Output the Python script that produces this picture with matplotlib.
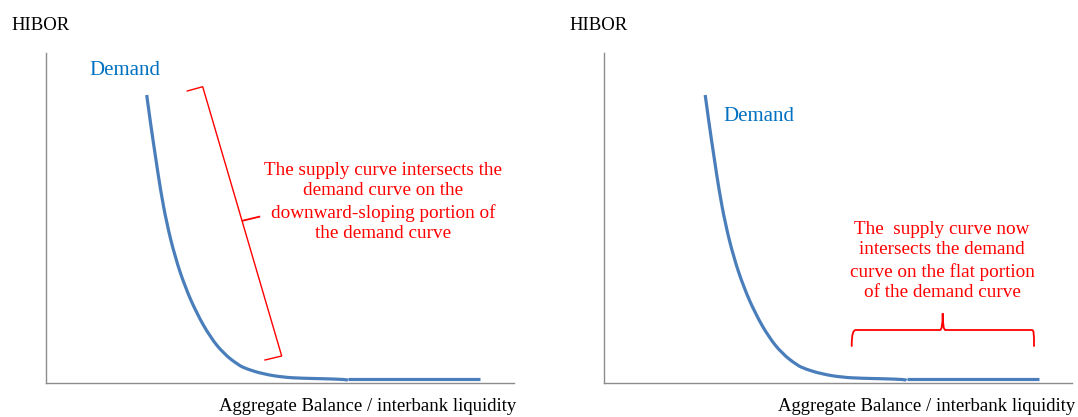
import matplotlib
matplotlib.use("Agg")
import matplotlib.pyplot as plt
from matplotlib.path import Path
from matplotlib.patches import PathPatch

# ---- data (in axis units) ----
demand_x = [101.2, 105.0, 110.0, 115.0, 121.2, 129.5, 139.5, 151.2, 164.5, 177.8,
            192.8, 201.2, 217.8, 237.8, 257.8, 277.8, 301.2, 302.5]
demand_y = [288.3, 260.0, 226.6, 193.3, 160.0, 126.6, 96.6, 70.0, 46.6, 30.0,
            18.3, 14.3, 9.3, 6.0, 5.0, 4.6, 3.8, 2.8]
flat_x = [302.5, 434.5]
flat_y = [4.3, 4.3]

y_label = "HIBOR"
x_label = "Aggregate Balance / interbank liquidity"
curve_label = "Demand"
note_left = ("The supply curve intersects the\ndemand curve on the\n"
             "downward-sloping portion of\nthe demand curve")
note_right = ("The  supply curve now\nintersects the demand\n"
              "curve on the flat portion\nof the demand curve")

W, H = 1078, 417
plt.rcParams['font.family'] = ['Liberation Serif', 'DejaVu Serif']
fig = plt.figure(figsize=(W / 100, H / 100), dpi=100)

BLUE = "#4A7EBB"
TXT_BLUE = "#0070C0"
RED = "#FF0000"
AXC = "#8C8C8C"


def smooth_path(xs, ys):
    """Quadratic B-spline style path through the read points (rendering only)."""
    pts = list(zip(xs, ys))
    verts = [pts[0]]
    codes = [Path.MOVETO]
    for i in range(1, len(pts) - 1):
        mid = ((pts[i][0] + pts[i + 1][0]) / 2, (pts[i][1] + pts[i + 1][1]) / 2)
        verts += [pts[i], mid]
        codes += [Path.CURVE3, Path.CURVE3]
    verts.append(pts[-1])
    codes.append(Path.LINETO)
    return Path(verts, codes)


ax_w, ax_h = 468, 330.3
ax_bottom_px = 383.3
lefts = [45.5, 604.0]
axes = []
for lp in lefts:
    ax = fig.add_axes([lp / W, (H - ax_bottom_px) / H, ax_w / W, ax_h / H])
    ax.set_xlim(0, ax_w)
    ax.set_ylim(0, ax_h)
    for s in ["top", "right"]:
        ax.spines[s].set_visible(False)
    for s in ["left", "bottom"]:
        ax.spines[s].set_color(AXC)
        ax.spines[s].set_linewidth(1.0)
    ax.set_xticks([])
    ax.set_yticks([])
    ax.patch.set_alpha(0)
    ax.add_patch(PathPatch(smooth_path(demand_x, demand_y), fill=False,
                           edgecolor=BLUE, lw=2.3, capstyle="butt",
                           joinstyle="round"))
    ax.plot(flat_x, flat_y, color=BLUE, lw=2.3, solid_capstyle="butt")
    axes.append(ax)

    # axis titles
    fig.text((lp - 34.5) / W, 1 - 25 / H, y_label, fontsize=13.5,
             ha="left", va="center", color="black")
    fig.text((lp + 322.5) / W, 1 - 406.7 / H, x_label, fontsize=13.5,
             ha="center", va="center", color="black")

axL, axR = axes

# Demand labels
axL.text(43.5, ax_bottom_px - 75.3, curve_label, color=TXT_BLUE, fontsize=15,
         ha="left", va="baseline")
axR.text(119.0, ax_bottom_px - 120.7, curve_label, color=TXT_BLUE, fontsize=15,
         ha="left", va="baseline")

# Left annotation: square bracket along the slope
brk_x = [141.8, 157.2, 236.2, 219.5]
brk_y = [292.3, 296.6, 27.3, 23.3]
axL.plot(brk_x, brk_y, color=RED, lw=1.0, solid_joinstyle="miter")
axL.plot([197.2, 213.8], [162.6, 166.6], color=RED, lw=1.3)
axL.text(337.5, ax_bottom_px - 202.0, note_left, color=RED, fontsize=13.8,
         ha="center", va="center", linespacing=1.3)

# Right annotation: curly brace over the flat part
verts = [(247.7, 36.6), (247.7, 50.0), (249.3, 53.3), (252.0, 53.3),
         (336.0, 53.3), (338.7, 53.3), (338.7, 70.0),
         (338.7, 53.3), (341.4, 53.3), (427.7, 53.3),
         (430.0, 53.3), (430.0, 50.0), (430.0, 36.6)]
codes = [Path.MOVETO, Path.CURVE4, Path.CURVE4, Path.CURVE4,
         Path.LINETO, Path.CURVE3, Path.CURVE3,
         Path.CURVE3, Path.CURVE3, Path.LINETO,
         Path.CURVE4, Path.CURVE4, Path.CURVE4]
axR.add_patch(PathPatch(Path(verts, codes), fill=False, edgecolor=RED, lw=1.3))
axR.text(338.0, ax_bottom_px - 261.0, note_right, color=RED, fontsize=13.8,
         ha="center", va="center", linespacing=1.3)

fig.savefig("out.png", dpi=100)
